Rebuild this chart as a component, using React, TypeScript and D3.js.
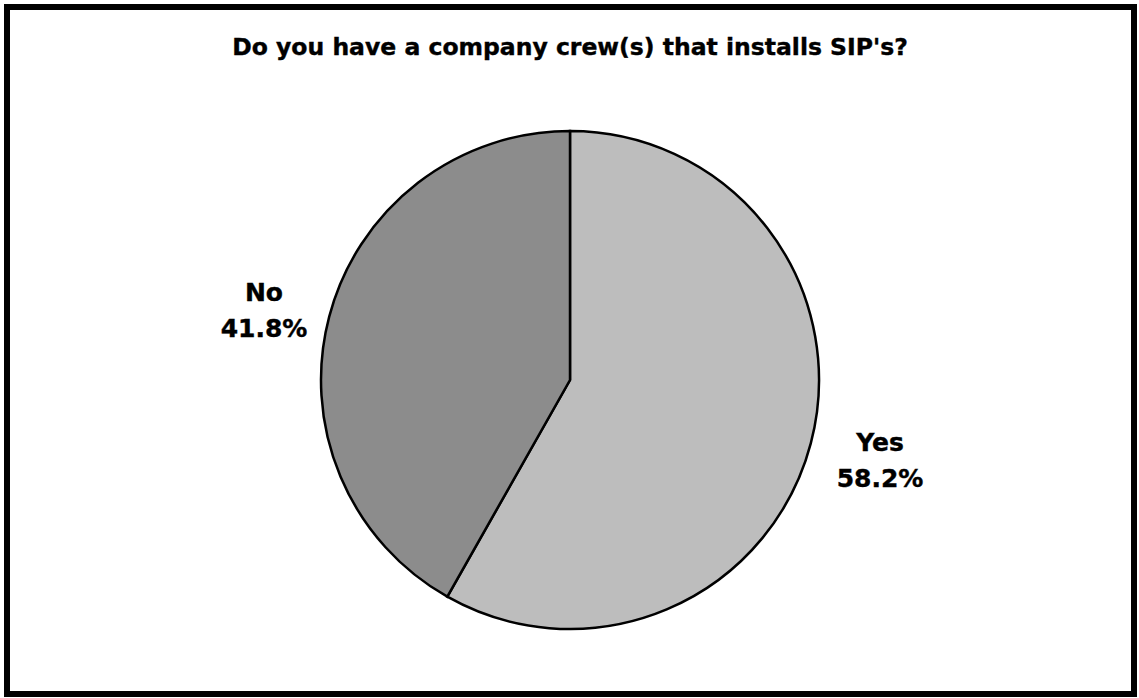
import React from "react";
import * as d3 from "d3";

const categories = ["Yes", "No"];
const values = [58.2, 41.8];
const colors = ["#bdbdbd", "#8c8c8c"];
const title = "Do you have a company crew(s) that installs SIP's?";

const W = 1139;
const H = 698;

export default function App() {
  const cx = 570;
  const cy = 380;
  const r = 249;
  const data = categories.map((c, i) => ({ name: c, value: values[i], color: colors[i] }));
  const pie = d3.pie<any>().value((d: any) => d.value).sort(null);
  const arcs = pie(data);
  const arc = d3.arc<any>().innerRadius(0).outerRadius(r);
  const labelPos: Record<string, [number, number]> = {
    Yes: [880, 442],
    No: [264, 292],
  };
  return (
    <svg
      width={W}
      height={H}
      style={{ position: "absolute", left: 0, top: 0, display: "block", background: "#fff" }}
      fontFamily="'DejaVu Sans', Verdana, sans-serif"
    >
      <rect x={7} y={7} width={1127} height={687} fill="#fff" stroke="#000" strokeWidth={6} />
      <text x={570} y={55} textAnchor="middle" fontSize={23.5} fontWeight="bold" fill="#000" stroke="#000" strokeWidth={0.4}>
        {title}
      </text>
      <g transform={`translate(${cx},${cy})`}>
        {arcs.map((a, i) => (
          <path key={i} d={arc(a) || ""} fill={a.data.color} stroke="#000" strokeWidth={2.5} />
        ))}
      </g>
      {arcs.map((a, i) => {
        const [lx, ly] = labelPos[a.data.name];
        return (
          <text key={i} textAnchor="middle" fontSize={25} fontWeight="bold" fill="#000" stroke="#000" strokeWidth={0.4}>
            <tspan x={lx} y={ly + 9}>{a.data.name}</tspan>
            <tspan x={lx} y={ly + 45}>{a.data.value.toFixed(1) + "%"}</tspan>
          </text>
        );
      })}
    </svg>
  );
}
